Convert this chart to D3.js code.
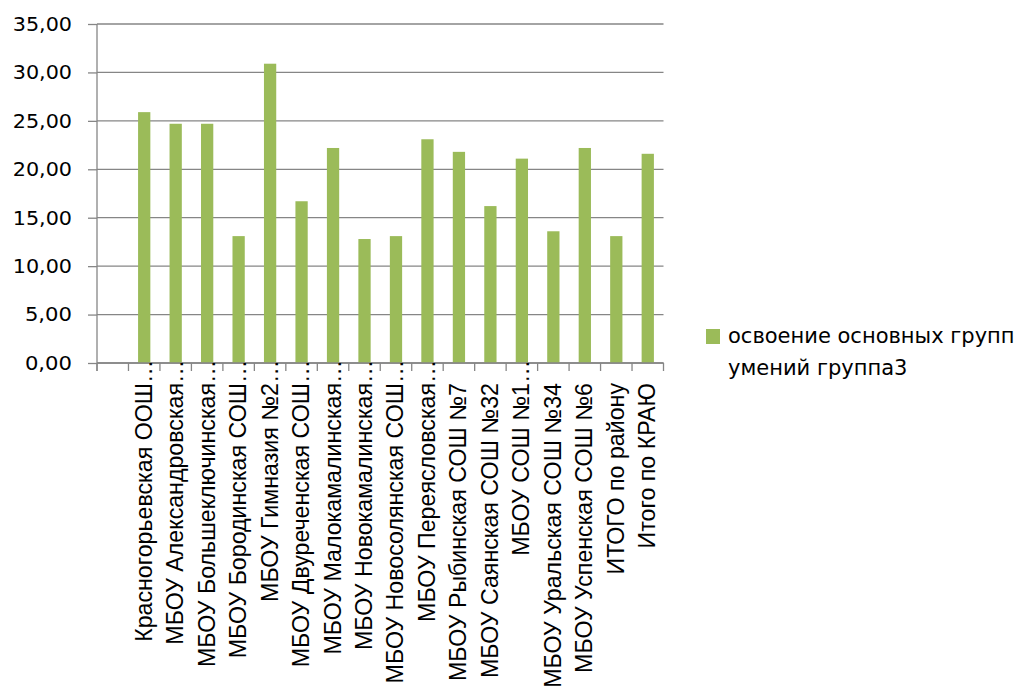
<!DOCTYPE html>
<html><head><meta charset="utf-8">
<script src="https://cdn.jsdelivr.net/npm/d3@7"></script>
<style>body{margin:0;background:#fff}</style>
</head><body><svg id="c" width="1024" height="689"></svg>
<script>
const categories = ["", "Красногорьевская ООШ…", "МБОУ Александровская…", "МБОУ Большеключинская…",
  "МБОУ Бородинская СОШ…", "МБОУ Гимназия №2…", "МБОУ Двуреченская СОШ…", "МБОУ Малокамалинская…",
  "МБОУ Новокамалинская…", "МБОУ Новосолянская СОШ…", "МБОУ Переясловская…", "МБОУ Рыбинская СОШ №7",
  "МБОУ Саянская СОШ №32", "МБОУ СОШ №1…", "МБОУ Уральская СОШ №34", "МБОУ Успенская СОШ №6",
  "ИТОГО по району", "Итого по КРАЮ"];
const values = [null, 25.9, 24.7, 24.7, 13.1, 30.9, 16.7, 22.2, 12.8, 13.1, 23.1, 21.8, 16.2, 21.1, 13.6, 22.2, 13.1, 21.6];
const yTicks = [0, 5, 10, 15, 20, 25, 30, 35];
const seriesLines = ["освоение основных групп", "умений группа3"];

const green = "#9BBB59", grid = "#868686";
const svg = d3.select("#c");
const x = d3.scaleBand().domain(d3.range(categories.length)).range([97, 663.5]).paddingInner(0.61).paddingOuter(0.305);
const y = d3.scaleLinear().domain([0, 35]).range([363, 24]);
const fmt = v => d3.format(".2f")(v).replace(".", ",");

// gridlines
svg.append("g").selectAll("line").data(yTicks).join("line")
  .attr("x1", 97).attr("x2", 663.5)
  .attr("y1", d => y(d)).attr("y2", d => y(d))
  .attr("stroke", grid).attr("stroke-width", 1.3);

// y axis
const ya = svg.append("g").attr("transform", "translate(97,0)")
  .call(d3.axisLeft(y).tickValues(yTicks).tickFormat(fmt).tickSize(9).tickPadding(16));
ya.select(".domain").attr("stroke", grid).attr("stroke-width", 1.3).attr("d", "M0," + y(35) + "V" + (y(0) + 8));
ya.selectAll(".tick line").attr("stroke", grid).attr("stroke-width", 1.3);
ya.selectAll(".tick text")
  .attr("font-family", "DejaVu Sans, Verdana, sans-serif").attr("font-size", 20).attr("fill", "#000")
  .attr("textLength", function () { const s = this.textContent; return (s.length - 1) * 12.2 + 10.5; })
  .attr("lengthAdjust", "spacingAndGlyphs");

// bars
svg.append("g").selectAll("rect").data(values.map((v, i) => ({v, i})).filter(d => d.v != null)).join("rect")
  .attr("x", d => x(d.i)).attr("width", x.bandwidth())
  .attr("y", d => y(d.v)).attr("height", d => y(0) - y(d.v))
  .attr("fill", green);

// x axis line + ticks at band boundaries
const x0 = x.range()[0], step = x.step();
svg.append("line").attr("x1", x0).attr("x2", x.range()[1]).attr("y1", y(0)).attr("y2", y(0))
  .attr("stroke", grid).attr("stroke-width", 1.3);
svg.append("g").selectAll("line").data(d3.range(categories.length + 1)).join("line")
  .attr("x1", d => x0 + d * step).attr("x2", d => x0 + d * step)
  .attr("y1", y(0)).attr("y2", y(0) + 8)
  .attr("stroke", grid).attr("stroke-width", 1.3);

// x labels
const lab = svg.append("g").selectAll("g").data(categories.map((c, i) => ({c, i}))).join("g")
  .attr("transform", d => `translate(${x(d.i) + x.bandwidth() / 2 + 7.5},383) rotate(-90)`)
  .attr("font-family", "Liberation Sans, Arial, sans-serif").attr("font-size", 23.2).attr("fill", "#000");
lab.append("text").attr("text-anchor", "end")
  .text(d => d.c.endsWith("…") ? d.c.slice(0, -1) : d.c);
lab.filter(d => d.c.endsWith("…")).append("text").attr("text-anchor", "start").attr("x", 0).text("…");

// legend
svg.append("rect").attr("x", 706).attr("y", 329).attr("width", 14).attr("height", 15).attr("fill", green);
svg.append("g").selectAll("text").data(seriesLines).join("text")
  .attr("x", 728).attr("y", (d, i) => 343 + i * 32)
  .attr("font-family", "DejaVu Sans, Verdana, sans-serif").attr("font-size", 21).attr("fill", "#000")
  .text(d => d);
</script></body></html>
